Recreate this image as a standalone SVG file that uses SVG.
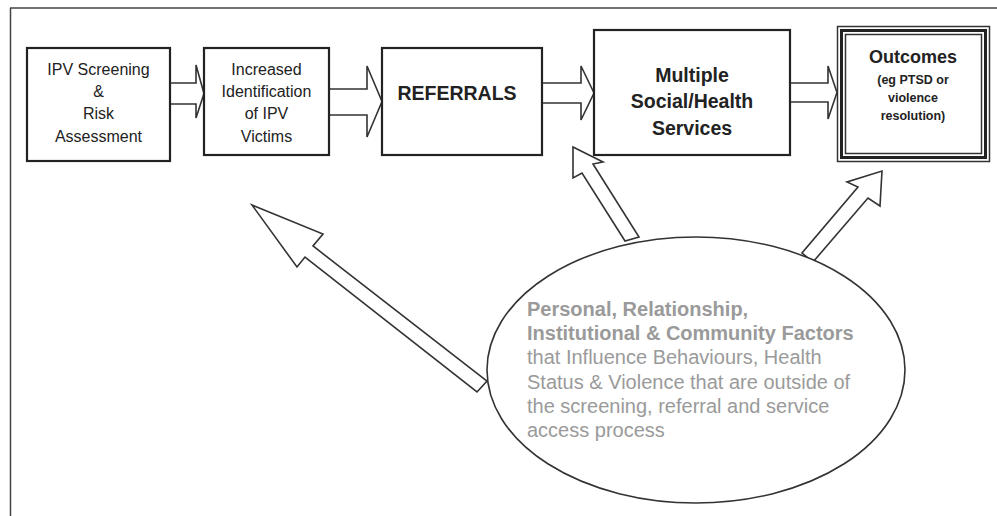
<svg xmlns="http://www.w3.org/2000/svg" width="997" height="516" viewBox="0 0 997 516">
<style>
.frame{stroke:#444;stroke-width:1.5;fill:none}
.box{fill:#fff;stroke:#222;stroke-width:2.2}
.arr{fill:#fff;stroke:#333;stroke-width:1.6;stroke-linejoin:miter}
.t{font-family:"Liberation Sans",Arial,sans-serif;fill:#222;text-anchor:middle}
.b{font-weight:bold}
.g{font-family:"Liberation Sans",Arial,sans-serif;fill:#9a9a9a;font-size:20px}
</style>
<rect width="997" height="516" fill="#fff"/>
<g id="frame">
<line class="frame" x1="10" y1="8" x2="997" y2="8"/>
<line class="frame" x1="10.5" y1="8" x2="10.5" y2="516"/>
</g>
<g id="connectors">
<polygon class="arr" points="170,83 196,83 196,65 204,93.5 196,118 196,104 170,104"/>
<polygon class="arr" points="329,89 367,89 367,66 382,101.5 367,137 367,115 329,115"/>
<polygon class="arr" points="542,83 581,83 581,66 594,93 581,120 581,103 542,103"/>
<polygon class="arr" points="790,83 828,83 828,66 837,92.5 828,119 828,102 790,102"/>
<polygon class="arr" points="252,205 323,234 313,246 487,381 477,392 305,257 297,267"/>
<polygon class="arr" points="573,147 603,162 593,164 639,237 625,241 582,173 573,178"/>
<polygon class="arr" points="882,171 880,206 868,198 813,262 802,253 858,187 847,182"/>
</g>
<g id="n1">
<rect class="box" x="27" y="48" width="143" height="113"/>
<text class="t" font-size="16" x="98.5" y="75">IPV Screening</text>
<text class="t" font-size="16" x="98.5" y="97">&amp;</text>
<text class="t" font-size="16" x="98.5" y="119">Risk</text>
<text class="t" font-size="16" x="98.5" y="142">Assessment</text>
</g>
<g id="n2">
<rect class="box" x="204" y="48" width="125" height="107"/>
<text class="t" font-size="16" x="266.5" y="75">Increased</text>
<text class="t" font-size="16" x="266.5" y="97">Identification</text>
<text class="t" font-size="16" x="266.5" y="119">of IPV</text>
<text class="t" font-size="16" x="266.5" y="142">Victims</text>
</g>
<g id="n3">
<rect class="box" x="382" y="48" width="160" height="107"/>
<text class="t b" font-size="19.5" x="457" y="100">REFERRALS</text>
</g>
<g id="n4">
<rect class="box" x="594" y="30" width="196" height="125"/>
<text class="t b" font-size="19.5" x="692" y="82">Multiple</text>
<text class="t b" font-size="19.5" x="692" y="108">Social/Health</text>
<text class="t b" font-size="19.5" x="692" y="135">Services</text>
</g>
<g id="n5">
<rect x="837.5" y="26.5" width="152" height="135" fill="#fff" stroke="#333" stroke-width="1.5"/>
<rect x="841.5" y="30.5" width="144" height="127" fill="none" stroke="#222" stroke-width="3"/>
<rect x="845.5" y="34.5" width="136" height="119" fill="none" stroke="#333" stroke-width="1.5"/>
<text class="t b" font-size="18" x="913" y="63">Outcomes</text>
<text class="t b" font-size="12.5" x="913" y="84">(eg PTSD or</text>
<text class="t b" font-size="12.5" x="913" y="102">violence</text>
<text class="t b" font-size="12.5" x="913" y="120">resolution)</text>
</g>
<g id="n6">
<ellipse cx="696" cy="370" rx="209" ry="133" fill="#fff" stroke="#333" stroke-width="1.6"/>
<text class="g b" x="527" y="316">Personal, Relationship,</text>
<text class="g b" x="527" y="340">Institutional &amp; Community Factors</text>
<text class="g" x="527" y="364">that Influence Behaviours, Health</text>
<text class="g" x="527" y="389">Status &amp; Violence that are outside of</text>
<text class="g" x="527" y="413">the screening, referral and service</text>
<text class="g" x="527" y="437">access process</text>
</g>
</svg>
